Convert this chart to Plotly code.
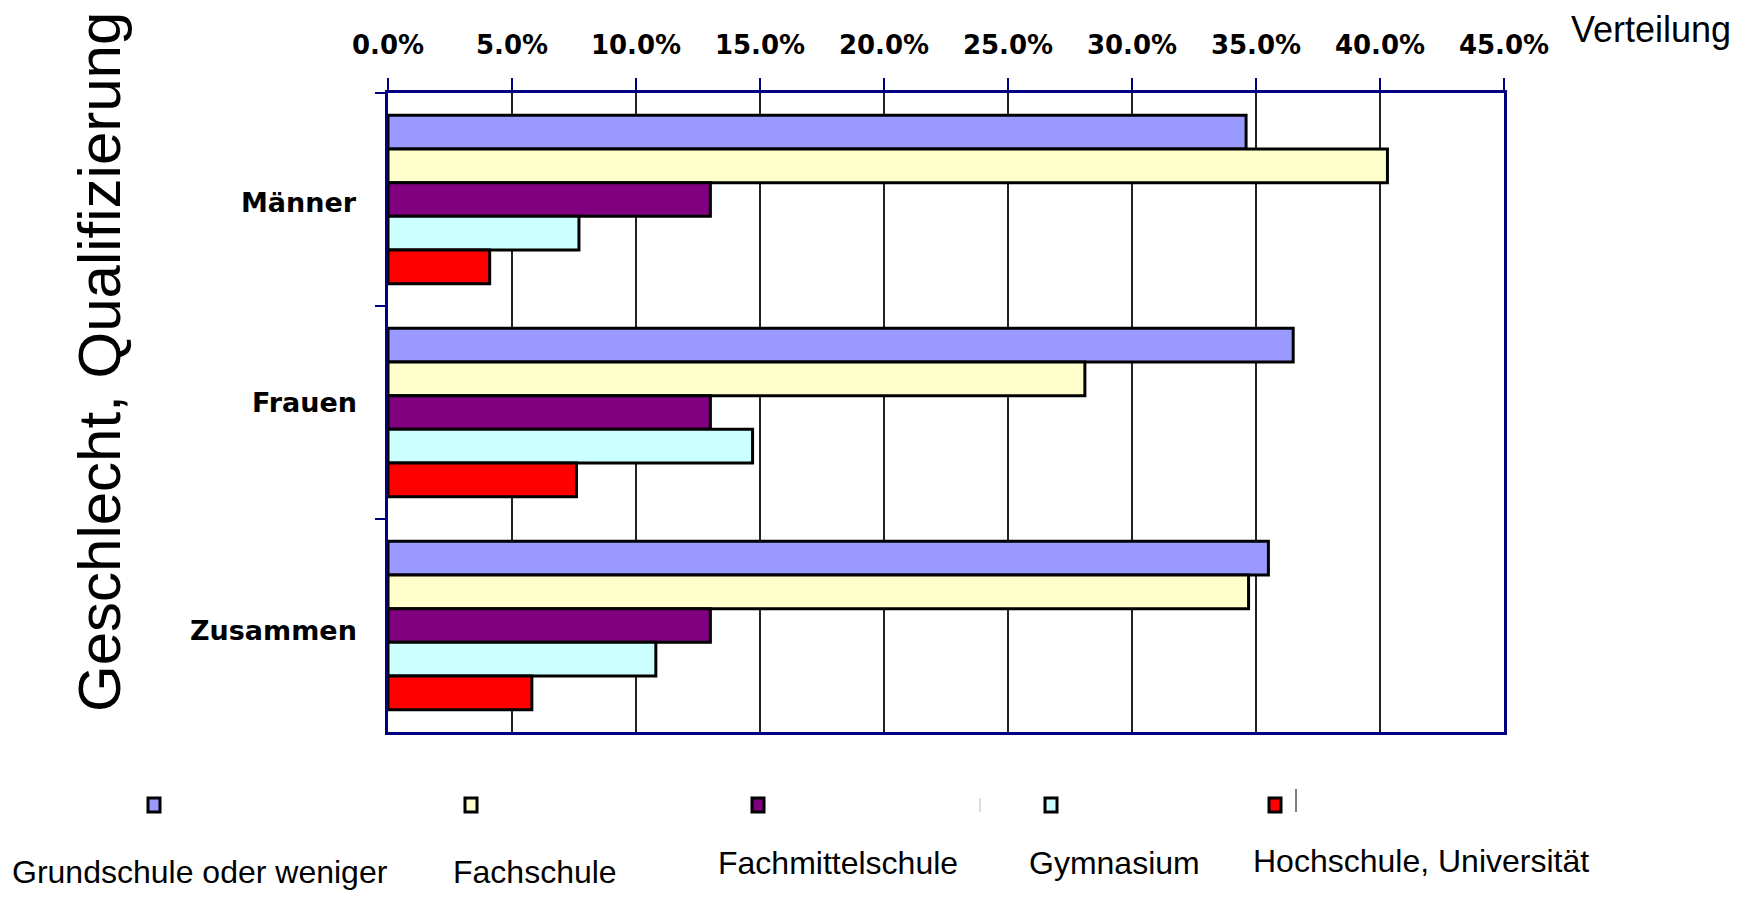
import plotly.graph_objects as go

categories = ["Männer", "Frauen", "Zusammen"]
series_names = ["Grundschule oder weniger", "Fachschule", "Fachmittelschule",
                "Gymnasium", "Hochschule, Universität"]
grundschule = [34.6, 36.5, 35.5]
fachschule = [40.3, 28.1, 34.7]
fachmittelschule = [13.0, 13.0, 13.0]
gymnasium = [7.7, 14.7, 10.8]
hochschule = [4.1, 7.6, 5.8]
series_values = [grundschule, fachschule, fachmittelschule, gymnasium, hochschule]
colors = ["#9999FF", "#FFFFCC", "#800080", "#CCFFFF", "#FF0000"]
tick_vals = [0, 5, 10, 15, 20, 25, 30, 35, 40, 45]
tick_text = ["0.0%", "5.0%", "10.0%", "15.0%", "20.0%", "25.0%", "30.0%", "35.0%", "40.0%", "45.0%"]

W, H = 1753, 898
OFF = 8  # page body margin
L, R, T, B = 388 - OFF, 1504 - OFF, 93 - OFF, 732 - OFF

fig = go.Figure()
for name, vals, col in zip(series_names, series_values, colors):
    fig.add_trace(go.Bar(
        y=categories, x=vals, name=name, orientation="h",
        marker=dict(color=col, line=dict(color="black", width=3)),
        showlegend=False,
    ))

fig.update_layout(
    width=W, height=H,
    margin=dict(l=L, r=W - R, t=T, b=H - B),
    paper_bgcolor="white", plot_bgcolor="white",
    barmode="group", bargap=0.21, bargroupgap=0,
    xaxis=dict(
        side="top", range=[0, 45], tickvals=tick_vals, ticktext=tick_text,
        showgrid=True, gridcolor="#222222", gridwidth=1.5,
        showline=True, linecolor="#000080", linewidth=3, mirror=True,
        ticks="outside", ticklen=12, tickcolor="#000080", tickwidth=1.5,
        ticklabelstandoff=14,
        tickfont=dict(family="DejaVu Sans", size=26, color="black", weight="bold"),
        zeroline=False,
    ),
    yaxis=dict(
        autorange="reversed", tickson="boundaries",
        showline=True, linecolor="#000080", linewidth=3, mirror=True,
        ticks="outside", ticklen=10, tickcolor="#000080", tickwidth=1.5,
        showticklabels=False,
        showgrid=False,
    ),
)

def px_x(X):
    return (X - OFF - L) / (R - L)

def px_y(Y):
    return (B - (Y - OFF)) / (B - T)

annotations = [
    dict(text="Geschlecht, Qualifizierung", textangle=-90, x=px_x(99), y=px_y(362),
         xref="paper", yref="paper", showarrow=False, xanchor="center", yanchor="middle",
         font=dict(family="Liberation Sans", size=60, color="black")),
    dict(text="Verteilung", x=px_x(1569), y=px_y(29), xref="paper", yref="paper",
         showarrow=False, xanchor="left", yanchor="middle",
         font=dict(family="Liberation Sans", size=36, color="black")),
]

# category labels (placed like the original's slightly uneven labels)
cat_yshift = [-3, 10, -5]
for cat, ys in zip(categories, cat_yshift):
    annotations.append(dict(text=cat, x=0, y=cat, xref="paper", yref="y",
                            xanchor="right", yanchor="middle", xshift=-29, yshift=ys,
                            showarrow=False,
                            font=dict(family="DejaVu Sans", size=27, color="black",
                                      weight="bold")))

legend_sq_x = [154, 471, 758, 1051, 1275]
legend_lab = [(200, 872), (535, 872), (838, 863), (1114, 863), (1421, 861)]
shapes = []
for i, (name, col) in enumerate(zip(series_names, colors)):
    cx, cy = legend_sq_x[i], 805
    shapes.append(dict(type="rect", xref="paper", yref="paper",
                       x0=px_x(cx - 6), x1=px_x(cx + 6), y0=px_y(cy + 7), y1=px_y(cy - 7),
                       fillcolor=col, line=dict(color="black", width=3)))
    lx, ly = legend_lab[i]
    annotations.append(dict(text=name, x=px_x(lx), y=px_y(ly), xref="paper", yref="paper",
                            showarrow=False, xanchor="center", yanchor="middle",
                            font=dict(family="Liberation Sans", size=32, color="black")))

# small stray marks present in the original legend area
shapes.append(dict(type="line", xref="paper", yref="paper",
                   x0=px_x(1296), x1=px_x(1296), y0=px_y(789), y1=px_y(812),
                   line=dict(color="black", width=1)))
shapes.append(dict(type="line", xref="paper", yref="paper",
                   x0=px_x(980), x1=px_x(980), y0=px_y(798), y1=px_y(812),
                   line=dict(color="#bbbbbb", width=1)))

fig.update_layout(annotations=annotations, shapes=shapes)
fig.write_html("out.html")
